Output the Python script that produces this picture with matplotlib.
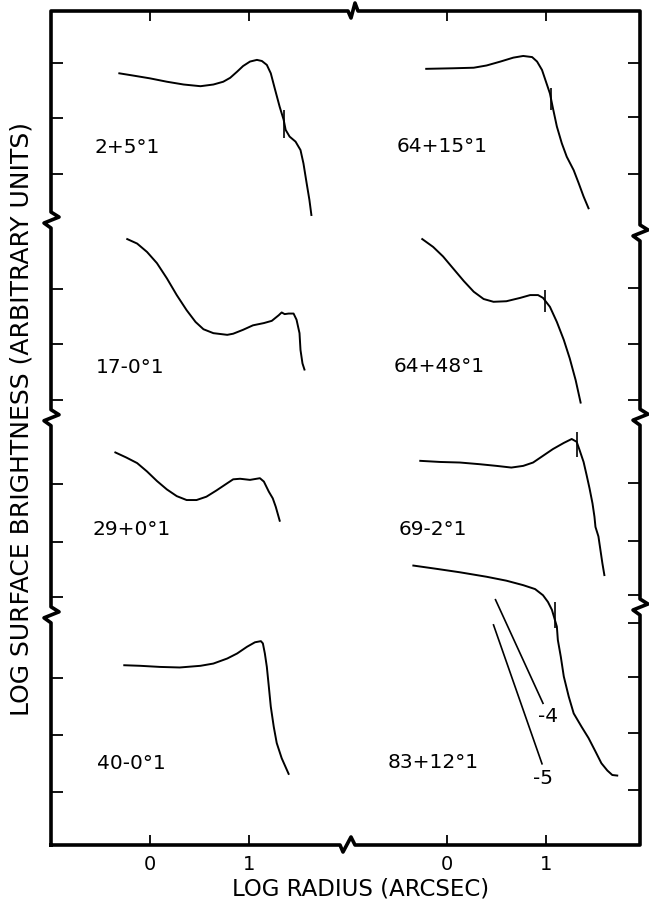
import matplotlib.pyplot as plt
from matplotlib.lines import Line2D
from matplotlib.transforms import IdentityTransform

# log radius (arcsec) vs log surface brightness (arbitrary, 1 unit = 1 dex)
# left column
r_2p5 = [-0.31, -0.17, 0.00, 0.17, 0.34, 0.51, 0.64, 0.74, 0.81, 0.88, 0.94, 1.01, 1.08, 1.13,
         1.18, 1.22, 1.26, 1.31, 1.35, 1.37, 1.41, 1.47, 1.52, 1.55, 1.58, 1.61, 1.63]
s_2p5 = [13.78, 13.74, 13.69, 13.63, 13.58, 13.55, 13.58, 13.63, 13.70, 13.81, 13.91, 13.99, 14.02,
         14.00, 13.93, 13.78, 13.51, 13.18, 12.95, 12.77, 12.65, 12.56, 12.41, 12.17, 11.84, 11.52, 11.25]

r_17m0 = [-0.23, -0.13, -0.03, 0.07, 0.17, 0.27, 0.37, 0.46, 0.54, 0.64, 0.78, 0.84, 0.94, 1.04,
          1.15, 1.23, 1.30, 1.33, 1.36, 1.40, 1.45, 1.48, 1.51, 1.52, 1.54, 1.56]
s_17m0 = [10.82, 10.74, 10.59, 10.39, 10.12, 9.82, 9.55, 9.34, 9.21, 9.14, 9.11, 9.13, 9.20, 9.28,
          9.32, 9.36, 9.46, 9.51, 9.48, 9.49, 9.49, 9.38, 9.14, 8.84, 8.60, 8.49]

r_29p0 = [-0.35, -0.24, -0.13, -0.03, 0.07, 0.17, 0.27, 0.37, 0.47, 0.57, 0.67, 0.78, 0.84, 0.91,
          1.01, 1.11, 1.15, 1.20, 1.24, 1.27, 1.31]
s_29p0 = [7.01, 6.92, 6.82, 6.67, 6.50, 6.35, 6.23, 6.16, 6.16, 6.22, 6.33, 6.46, 6.53, 6.54,
          6.52, 6.55, 6.49, 6.31, 6.19, 6.04, 5.79]

r_40m0 = [-0.26, -0.10, 0.10, 0.30, 0.51, 0.64, 0.78, 0.88, 0.98, 1.06, 1.12, 1.14, 1.16, 1.18,
          1.20, 1.22, 1.25, 1.28, 1.33, 1.40]
s_40m0 = [3.21, 3.20, 3.18, 3.17, 3.20, 3.24, 3.33, 3.42, 3.54, 3.62, 3.64, 3.60, 3.42, 3.18,
          2.83, 2.47, 2.11, 1.82, 1.55, 1.27]

# right column
r_64p15 = [-0.21, 0.06, 0.27, 0.40, 0.54, 0.67, 0.77, 0.86, 0.91, 0.96, 1.00, 1.04, 1.07, 1.11,
           1.16, 1.21, 1.28, 1.33, 1.38, 1.43]
s_64p15 = [13.86, 13.87, 13.88, 13.92, 13.99, 14.06, 14.09, 14.07, 13.99, 13.84, 13.63, 13.42,
           13.16, 12.83, 12.53, 12.29, 12.05, 11.82, 11.58, 11.37]

r_64p48 = [-0.25, -0.14, -0.04, 0.06, 0.17, 0.27, 0.37, 0.47, 0.60, 0.74, 0.84, 0.92, 0.97, 1.04,
           1.11, 1.18, 1.24, 1.30, 1.35]
s_64p48 = [10.82, 10.68, 10.51, 10.30, 10.07, 9.88, 9.75, 9.70, 9.71, 9.77, 9.82, 9.82, 9.77,
           9.61, 9.34, 9.02, 8.69, 8.30, 7.90]

r_69m2 = [-0.27, -0.07, 0.13, 0.33, 0.50, 0.65, 0.77, 0.87, 0.97, 1.07, 1.18, 1.26, 1.31, 1.34,
          1.38, 1.41, 1.44, 1.47, 1.49, 1.50, 1.53, 1.55, 1.57, 1.59]
s_69m2 = [6.86, 6.84, 6.83, 6.80, 6.77, 6.74, 6.77, 6.83, 6.95, 7.07, 7.18, 7.25, 7.20, 7.05,
          6.84, 6.61, 6.37, 6.10, 5.86, 5.68, 5.51, 5.27, 5.03, 4.82]

r_83p12 = [-0.34, -0.10, 0.13, 0.40, 0.60, 0.77, 0.89, 0.97, 1.02, 1.06, 1.09, 1.11, 1.12, 1.15,
           1.18, 1.23, 1.28, 1.36, 1.43, 1.50, 1.56, 1.62, 1.67, 1.72]
s_83p12 = [4.99, 4.93, 4.87, 4.79, 4.72, 4.64, 4.57, 4.46, 4.34, 4.20, 4.02, 3.90, 3.66, 3.36,
           3.01, 2.65, 2.35, 2.11, 1.91, 1.67, 1.46, 1.33, 1.25, 1.24]

# reference slopes -4 and -5
slope4_r = [0.49, 0.97]
slope4_s = [4.38, 2.53]
slope5_r = [0.47, 0.96]
slope5_s = [3.93, 1.45]

# short vertical marks across the profiles
left_mark_r = [1.35]
left_mark_lo = [12.63]
left_mark_hi = [13.13]
right_mark_r = [1.05, 0.99, 1.31, 1.09]
right_mark_lo = [13.13, 9.52, 6.93, 3.88]
right_mark_hi = [13.52, 9.91, 7.38, 4.34]

left_names = ["2+5°1", "17-0°1", "29+0°1", "40-0°1"]
right_names = ["64+15°1", "64+48°1", "69-2°1", "83+12°1"]

left_yticks = [13.96, 12.98, 11.98, 9.93, 8.95, 7.95, 6.45, 5.41, 4.43, 2.98, 1.96, 0.95]
right_yticks = [13.96, 13.0, 11.98, 9.95, 8.95, 7.95, 6.46, 5.43, 4.46, 3.96, 3.0, 2.0, 0.98]
left_breaks = [4.11, 7.63, 11.16]
right_breaks = [4.25, 7.64, 10.93]

YTOP = 834 / 56
LW = 1.4

fig = plt.figure(figsize=(6.49, 9.01), dpi=100)
axL = fig.add_axes([51 / 649, 56 / 901, 299 / 649, 834 / 901])
axR = fig.add_axes([350 / 649, 56 / 901, 290 / 649, 834 / 901])

for ax, xl in ((axL, (-1.0, 2.02)), (axR, (-0.98, 1.95))):
    ax.set_xlim(*xl)
    ax.set_ylim(0, YTOP)
    for s in ax.spines.values():
        s.set_visible(False)
    ax.patch.set_alpha(0)
    ax.set_xticks([0, 1])
    ax.set_xticklabels(["0", "1"], fontsize=14)
    ax.tick_params(axis="x", direction="in", top=True, bottom=True,
                   length=7, width=1.3, pad=7)

axL.set_yticks(left_yticks)
axL.tick_params(axis="y", direction="in", left=True, right=False,
                labelleft=False, length=8.5, width=1.3)
axR.set_yticks(right_yticks)
axR.yaxis.tick_right()
axR.tick_params(axis="y", direction="in", right=True, left=False,
                labelright=False, labelleft=False, length=8.5, width=1.3)

# profiles
for r, s in ((r_2p5, s_2p5), (r_17m0, s_17m0), (r_29p0, s_29p0), (r_40m0, s_40m0)):
    axL.plot(r, s, color="black", lw=LW)
for r, s in ((r_64p15, s_64p15), (r_64p48, s_64p48), (r_69m2, s_69m2), (r_83p12, s_83p12)):
    axR.plot(r, s, color="black", lw=LW)
axR.plot(slope4_r, slope4_s, color="black", lw=1.2)
axR.plot(slope5_r, slope5_s, color="black", lw=1.2)
axL.vlines(left_mark_r, left_mark_lo, left_mark_hi, color="black", lw=1.2)
axR.vlines(right_mark_r, right_mark_lo, right_mark_hi, color="black", lw=1.2)

axR.text(1.02, 2.29, "-4", fontsize=14.5, ha="center", va="center")
axR.text(0.97, 1.19, "-5", fontsize=14.5, ha="center", va="center")

for name, (x, y) in zip(left_names, [(-0.556, 12.46), (-0.545, 8.52), (-0.576, 5.63), (-0.535, 1.46)]):
    axL.text(x, y, name, fontsize=14.5, ha="left", va="center")
for name, (x, y) in zip(right_names, [(-0.505, 12.48), (-0.535, 8.54), (-0.485, 5.63), (-0.596, 1.48)]):
    axR.text(x, y, name, fontsize=14.5, ha="left", va="center")

# frame with break marks, drawn in display pixels
def disp(ax, x, y):
    return ax.transData.transform((x, y))

x0L, x1L = axL.get_xlim()
x0R, x1R = axR.get_xlim()
pts = [tuple(disp(axL, x0L, 0))]
for b in left_breaks:
    X, Y = disp(axL, x0L, b)
    pts += [(X, Y - 8), (X - 7, Y - 3), (X + 8, Y + 3), (X, Y + 8)]
X, Yt = disp(axL, x0L, YTOP)
pts.append((X, Yt))
Xb = disp(axL, x1L, YTOP)[0] + 2
pts += [(Xb - 4, Yt), (Xb - 1, Yt - 7), (Xb + 3, Yt + 8), (Xb + 6, Yt)]
XR, _ = disp(axR, x1R, YTOP)
pts.append((XR, Yt))
for b in sorted(right_breaks, reverse=True):
    X, Y = disp(axR, x1R, b)
    pts += [(X, Y + 8), (X + 8, Y + 3), (X - 7, Y - 3), (X, Y - 8)]
_, Yb = disp(axR, x1R, 0)
pts.append((XR, Yb))
Xb = disp(axL, x1L, 0)[0] - 2
pts += [(Xb + 7, Yb), (Xb + 3, Yb + 8), (Xb - 5, Yb - 7), (Xb - 8, Yb)]
pts.append(pts[0])
fig.add_artist(Line2D([p[0] for p in pts], [p[1] for p in pts], color="black", lw=2.6,
                      solid_joinstyle="round", transform=IdentityTransform()))

fig.text(361 / 649, 1 - 889 / 901, "LOG RADIUS (ARCSEC)", ha="center", va="center", fontsize=16.5)
fig.text(22 / 649, 1 - 419 / 901, "LOG SURFACE BRIGHTNESS (ARBITRARY UNITS)",
         rotation=90, ha="center", va="center", fontsize=18)

fig.savefig("out.png", dpi=100)
